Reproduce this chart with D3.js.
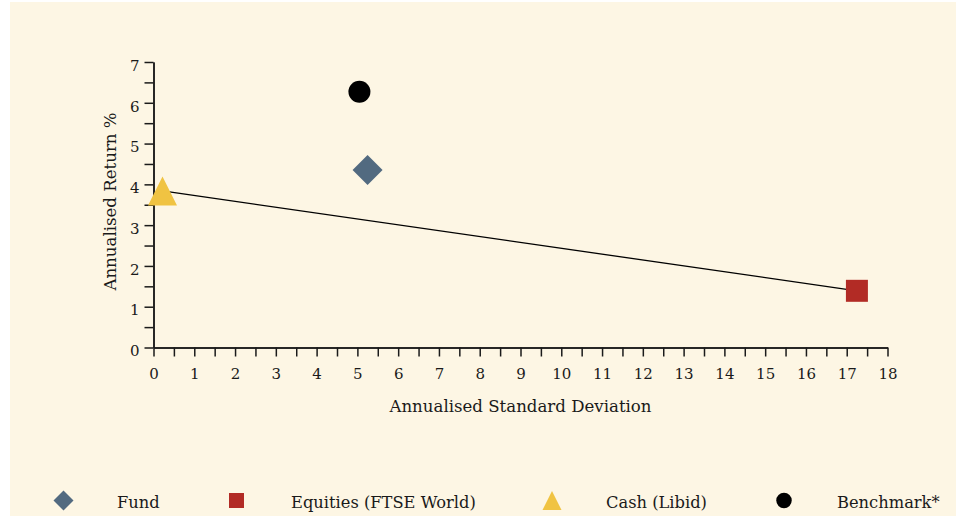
<!DOCTYPE html>
<html>
<head>
<meta charset="utf-8">
<script src="https://cdn.jsdelivr.net/npm/d3@7"></script>
<style>
  html, body { margin: 0; padding: 0; background: #ffffff; }
  svg { display: block; }
  text { font-family: "DejaVu Serif", serif; fill: #1a1a1a; }
</style>
</head>
<body>
<svg id="chart" width="963" height="526"></svg>
<script>
// ---- data ----
const seriesNames = ["Fund", "Equities (FTSE World)", "Cash (Libid)", "Benchmark*"];
const stdDev = [5.25, 17.25, 0.22, 5.05];
const annReturn = [4.35, 1.39, 3.84, 6.27];
const seriesColors = ["#526a80", "#b22b25", "#f0c342", "#000000"];
const seriesShapes = ["diamond", "square", "triangle", "circle"];
const xTicks = [0,1,2,3,4,5,6,7,8,9,10,11,12,13,14,15,16,17,18];
const yTicks = [0,1,2,3,4,5,6,7];
const lineFrom = 2, lineTo = 1; // line joins Cash to Equities

const svg = d3.select("#chart");
svg.append("rect").attr("x", 10).attr("y", 2).attr("width", 946).attr("height", 514).attr("fill", "#fdf6e4");

const x = d3.scaleLinear().domain([0, 18]).range([153.5, 887.5]);
const y = d3.scaleLinear().domain([0, 7]).range([347.5, 62]);

const xAxis = d3.axisBottom(x).tickValues(xTicks).tickSize(9).tickSizeOuter(0).tickPadding(11.5).tickFormat(d3.format("d"));
const yAxis = d3.axisLeft(y).tickValues(yTicks).tickSize(9).tickSizeOuter(0).tickPadding(5).tickFormat(d3.format("d"));
const xMinor = d3.axisBottom(x).tickValues(d3.range(0.5, 18, 1)).tickSize(9).tickSizeOuter(0).tickFormat("");
const yMinor = d3.axisLeft(y).tickValues(d3.range(0.5, 7, 1)).tickSize(9).tickSizeOuter(0).tickFormat("");

function styleAxis(g) {
  g.selectAll("path").attr("stroke", "#1a1a1a").attr("stroke-width", 1.5);
  g.selectAll("line").attr("stroke", "#1a1a1a").attr("stroke-width", 1.5);
  g.selectAll("text").style("font-family", "DejaVu Serif").style("font-size", "15px").attr("fill", "#1a1a1a");
}
svg.append("g").attr("transform", "translate(0,347.5)").call(xMinor).call(styleAxis);
svg.append("g").attr("transform", "translate(153.5,0)").call(yMinor).call(styleAxis);
svg.append("g").attr("transform", "translate(0,347.5)").call(xAxis).call(styleAxis);
svg.append("g").attr("transform", "translate(153.5,0)").call(yAxis).call(styleAxis)
  .selectAll("text").attr("dy", "0.55em");

svg.append("text").attr("x", 520.5).attr("y", 411.5).attr("text-anchor", "middle")
  .style("font-size", "16.6px").text("Annualised Standard Deviation");
svg.append("text").attr("transform", "translate(115.5,201.5) rotate(-90)").attr("text-anchor", "middle")
  .style("font-size", "16.6px").text("Annualised Return %");

// connecting line
svg.append("line")
  .attr("x1", x(stdDev[lineFrom])).attr("y1", y(annReturn[lineFrom]))
  .attr("x2", x(stdDev[lineTo])).attr("y2", y(annReturn[lineTo]))
  .attr("stroke", "#000").attr("stroke-width", 1.3);

function shapePath(shape, size) {
  if (shape === "diamond") {
    const r = size / 2;
    return `M0,${-r}L${r},0L0,${r}L${-r},0Z`;
  }
  if (shape === "square") {
    const r = size / 2;
    return `M${-r},${-r}H${r}V${r}H${-r}Z`;
  }
  if (shape === "triangle") {
    const w = size, h = size;
    return `M0,${-h*0.5}L${w/2},${h*0.5}L${-w/2},${h*0.5}Z`;
  }
  return d3.arc()({innerRadius:0, outerRadius:size/2, startAngle:0, endAngle:2*Math.PI});
}
const plotSizes = { diamond: 30, square: 22, triangle: 29, circle: 22 };

svg.append("g").selectAll("path").data(seriesNames.map((n, i) => i)).join("path")
  .attr("transform", i => `translate(${x(stdDev[i])},${y(annReturn[i])})`)
  .attr("d", i => shapePath(seriesShapes[i], plotSizes[seriesShapes[i]]))
  .attr("fill", i => seriesColors[i]);

// legend
const legendSym = [63.5, 236.5, 552, 784];
const legendTxt = [117, 291, 606, 837];
const legSizes = { diamond: 20, square: 15, triangle: 19, circle: 15.5 };
const lg = svg.append("g");
seriesNames.forEach((n, i) => {
  lg.append("path").attr("transform", `translate(${legendSym[i]},500.5)`)
    .attr("d", shapePath(seriesShapes[i], legSizes[seriesShapes[i]])).attr("fill", seriesColors[i]);
  lg.append("text").attr("x", legendTxt[i]).attr("y", 507.5).style("font-size", "16.3px").text(n);
});
</script>
</body>
</html>
